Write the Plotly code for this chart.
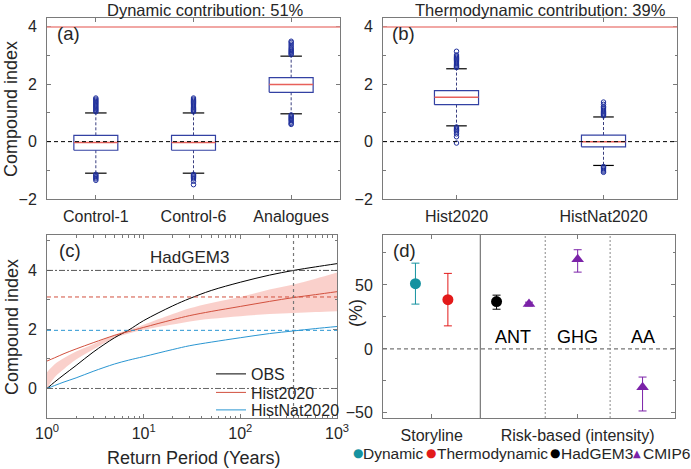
import plotly.graph_objects as go

# ---------------- DATA ----------------
# (a) storyline box plots (Compound index)
a_cats = ["Control-1", "Control-6", "Analogues"]
a_q1 = [-0.30, -0.30, 1.72]
a_med = [-0.03, -0.03, 1.99]
a_q3 = [0.22, 0.22, 2.23]
a_wlo = [-1.10, -1.10, 0.97]
a_whi = [1.00, 1.00, 2.98]
a_out = [
    [1.04, 1.08, 1.12, 1.16, 1.20, 1.24, 1.28, 1.32, 1.36, 1.40, 1.44, 1.48, 1.52,
     -1.14, -1.18, -1.22, -1.26, -1.30, -1.35],
    [1.04, 1.08, 1.12, 1.16, 1.20, 1.24, 1.28, 1.32, 1.36, 1.40, 1.44, 1.48, 1.52,
     -1.14, -1.18, -1.22, -1.26, -1.30, -1.38, -1.50],
    [3.03, 3.07, 3.11, 3.15, 3.19, 3.23, 3.28, 3.34, 3.40, 3.46, 3.50,
     0.93, 0.89, 0.85, 0.81, 0.77, 0.73, 0.68, 0.63, 0.60],
]

# (b) thermodynamic box plots
b_cats = ["Hist2020", "HistNat2020"]
b_q1 = [1.29, -0.18]
b_med = [1.55, 0.00]
b_q3 = [1.78, 0.23]
b_wlo = [0.55, -0.83]
b_whi = [2.54, 0.86]
b_out = [
    [2.58, 2.62, 2.66, 2.70, 2.74, 2.78, 2.82, 2.86, 2.90, 2.94, 2.98, 3.02, 3.15,
     0.51, 0.47, 0.43, 0.39, 0.34, 0.27, 0.17, -0.05],
    [0.90, 0.94, 0.98, 1.02, 1.06, 1.10, 1.14, 1.18, 1.22, 1.30, 1.38,
     -0.87, -0.91, -0.95, -0.99, -1.03, -1.07],
]

# (c) return-level curves, HadGEM3
rp = [1, 1.2, 1.5, 2, 3, 5, 7, 10, 20, 30, 50, 100, 200, 355, 600, 1000]
obs = [0.00, 0.22, 0.47, 0.78, 1.23, 1.72, 1.98, 2.30, 2.80, 3.05, 3.32, 3.60, 3.84, 4.00, 4.12, 4.23]
hist = [0.93, 1.04, 1.18, 1.34, 1.55, 1.80, 1.93, 2.07, 2.33, 2.47, 2.61, 2.78, 2.95, 3.08, 3.18, 3.28]
histnat = [0.00, 0.10, 0.22, 0.36, 0.58, 0.83, 0.96, 1.08, 1.32, 1.45, 1.57, 1.72, 1.86, 1.95, 2.03, 2.10]
hist_lo = [0.00, 0.38, 0.66, 0.98, 1.32, 1.71, 1.86, 1.99, 2.17, 2.27, 2.36, 2.45, 2.52, 2.56, 2.59, 2.62]
hist_hi = [0.55, 0.82, 1.03, 1.25, 1.50, 1.83, 1.98, 2.16, 2.52, 2.72, 2.90, 3.10, 3.35, 3.52, 3.72, 3.93]
obs_level = 4.0
hist_level = 3.10
nat_level = 1.97
event_rp = 355

# (d) contributions (%)
sl_names = ["Dynamic", "Thermodynamic"]
sl_val = [51, 38.5]
sl_hi = [67, 59]
sl_lo = [35, 18]
had_val = [37]
had_hi = [42]
had_lo = [31]
cmip_forc = ["ANT", "GHG", "AA"]
cmip_val = [35, 70, -30]
cmip_hi = [36.5, 77.5, -22]
cmip_lo = [33.5, 60, -48.5]
d_groups = ["Storyline", "Risk-based (intensity)"]
leg_names = ["Dynamic", "Thermodynamic", "HadGEM3", "CMIP6"]

# ---------------- STYLE / LAYOUT ----------------
W, H = 691, 469
FONT = "Liberation Sans, Arial, sans-serif"
FRAME = "#7a7a7a"
TXT = "#262626"
BOXC = "#3341a3"
MEDC = "#e8605a"
OUTC = "#1f2f9c"
TEAL = "#1592a0"
RED = "#e31a1a"
PURP = "#7b22a8"
HRED = "#d2503e"
NBLUE = "#2a96d2"

sl_x = [0.5, 1.0]
had_x = [1.75]
cmip_x = [2.25, 3.0, 4.0]
grp_x = [0.75, 3.0]
sep_x = [1.5, 2.5, 3.5]


def px(x):
    return x / W


def py(y):
    return 1 - y / H


fig = go.Figure()


def add_boxes(cats, q1, med, q3, wlo, whi, outs, xa, ya, hw, cw):
    for i in range(len(cats)):
        p = i + 1
        common = dict(xaxis=xa, yaxis=ya, showlegend=False, hoverinfo="skip")
        fig.add_trace(go.Scatter(x=[p, p, None, p, p], y=[q3[i], whi[i], None, q1[i], wlo[i]],
                                 mode="lines", line=dict(color="#3a3f80", width=1, dash="3px,2px"), **common))
        fig.add_trace(go.Scatter(x=[p - cw, p + cw, None, p - cw, p + cw],
                                 y=[whi[i], whi[i], None, wlo[i], wlo[i]],
                                 mode="lines", line=dict(color="black", width=1.2), **common))
        fig.add_trace(go.Scatter(x=[p - hw, p + hw, p + hw, p - hw, p - hw],
                                 y=[q1[i], q1[i], q3[i], q3[i], q1[i]],
                                 mode="lines", line=dict(color=BOXC, width=1.2), **common))
        fig.add_trace(go.Scatter(x=[p - hw, p + hw], y=[med[i], med[i]],
                                 mode="lines", line=dict(color=MEDC, width=1.5), **common))
        fig.add_trace(go.Scatter(x=[p] * len(outs[i]), y=outs[i], mode="markers",
                                 marker=dict(symbol="circle-open", size=4.5, color=OUTC,
                                             line=dict(width=1, color=OUTC)), **common))


add_boxes(a_cats, a_q1, a_med, a_q3, a_wlo, a_whi, a_out, "x", "y", 0.225, 0.11)
add_boxes(b_cats, b_q1, b_med, b_q3, b_wlo, b_whi, b_out, "x2", "y2", 0.15, 0.07)

# (c)
fig.add_trace(go.Scatter(x=rp, y=hist_lo, mode="lines", line=dict(width=0, shape="spline"),
                         xaxis="x3", yaxis="y3", showlegend=False, hoverinfo="skip"))
fig.add_trace(go.Scatter(x=rp, y=hist_hi, mode="lines", line=dict(width=0, shape="spline"),
                         fill="tonexty", fillcolor="rgba(246,170,160,0.55)",
                         xaxis="x3", yaxis="y3", showlegend=False, hoverinfo="skip"))
fig.add_trace(go.Scatter(x=rp, y=obs, mode="lines", name="OBS", legend="legend",
                         line=dict(color="black", width=1, shape="spline"), xaxis="x3", yaxis="y3"))
fig.add_trace(go.Scatter(x=rp, y=hist, mode="lines", name="Hist2020", legend="legend2",
                         line=dict(color=HRED, width=1, shape="spline"), xaxis="x3", yaxis="y3"))
fig.add_trace(go.Scatter(x=rp, y=histnat, mode="lines", name="HistNat2020", legend="legend3",
                         line=dict(color=NBLUE, width=1, shape="spline"), xaxis="x3", yaxis="y3"))

# (d)
for i, nm in enumerate(sl_names):
    col = [TEAL, RED][i]
    fig.add_trace(go.Scatter(x=[sl_x[i]], y=[sl_val[i]], mode="markers", showlegend=False,
                             marker=dict(symbol="circle", size=11, color=col),
                             error_y=dict(type="data", symmetric=False, array=[sl_hi[i] - sl_val[i]],
                                          arrayminus=[sl_val[i] - sl_lo[i]], width=4, thickness=1, color=col),
                             xaxis="x4", yaxis="y4"))
fig.add_trace(go.Scatter(x=had_x, y=had_val, mode="markers", showlegend=False,
                         marker=dict(symbol="circle", size=11, color="black"),
                         error_y=dict(type="data", symmetric=False,
                                      array=[h - v for h, v in zip(had_hi, had_val)],
                                      arrayminus=[v - l for v, l in zip(had_val, had_lo)],
                                      width=4, thickness=1, color="black"),
                         xaxis="x4", yaxis="y4"))
fig.add_trace(go.Scatter(x=cmip_x, y=cmip_val, mode="markers", showlegend=False,
                         marker=dict(symbol="triangle-up", size=11, color=PURP),
                         error_y=dict(type="data", symmetric=False,
                                      array=[h - v for h, v in zip(cmip_hi, cmip_val)],
                                      arrayminus=[v - l for v, l in zip(cmip_val, cmip_lo)],
                                      width=4, thickness=1, color=PURP),
                         xaxis="x4", yaxis="y4"))


# ---------------- axes ----------------
def axis(domain, rng, anchor, **kw):
    d = dict(domain=domain, range=rng, anchor=anchor, showline=True, mirror="ticks",
             linecolor=FRAME, linewidth=1, ticks="inside", ticklen=4, tickcolor=FRAME,
             showgrid=False, zeroline=False, automargin=False,
             tickfont=dict(size=16, color=TXT, family=FONT))
    d.update(kw)
    return d


top_dom = [py(199), py(18)]
bot_dom = [py(418), py(235)]
ax_a = [px(47), px(340)]
ax_b = [px(383), px(677)]
ax_c = [px(47), px(337)]
ax_d = [px(383), px(675)]

minor1 = dict(ticks="inside", ticklen=2.5, dtick=1, tickcolor=FRAME)


def legend_at(ytop):
    return dict(x=px(211), y=py(ytop), xanchor="left", yanchor="top", bgcolor="rgba(0,0,0,0)",
                font=dict(size=16, color=TXT, family=FONT), itemwidth=30, borderwidth=0)


fig.update_layout(
    xaxis=axis(ax_a, [0.5, 3.5], "y", tickvals=[1, 2, 3], ticktext=a_cats, ticklabelstandoff=3),
    yaxis=axis(top_dom, [-2, 4.31], "x", tickvals=[-2, 0, 2, 4], minor=minor1, ticklabelstandoff=6),
    xaxis2=axis(ax_b, [0.5, 2.5], "y2", tickvals=[1, 2], ticktext=b_cats, ticklabelstandoff=3),
    yaxis2=axis(top_dom, [-2, 4.31], "x2", tickvals=[-2, 0, 2, 4], minor=minor1, ticklabelstandoff=6),
    xaxis3=axis(ax_c, [0, 3], "y3", type="log", tickvals=[1, 10, 100, 1000],
                ticktext=["10<sup>0</sup>", "10<sup>1</sup>", "10<sup>2</sup>", "10<sup>3</sup>"],
                minor=dict(ticks="inside", ticklen=2.5, dtick="D1", tickcolor=FRAME), ticklabelstandoff=1),
    yaxis3=axis(bot_dom, [-1, 5.2], "x3", tickvals=[0, 2, 4], minor=minor1, ticklabelstandoff=6),
    xaxis4=axis(ax_d, [0, 4.5], "y4", tickvals=grp_x, ticktext=d_groups, ticklabelstandoff=3),
    yaxis4=axis(bot_dom, [-54, 89], "x4", tickvals=[-50, 0, 50],
                minor=dict(ticks="inside", ticklen=2.5, dtick=25, tickcolor=FRAME), ticklabelstandoff=6),
    width=W, height=H, margin=dict(l=0, r=0, t=0, b=0, autoexpand=False),
    paper_bgcolor="white", plot_bgcolor="white",
    font=dict(family=FONT, size=16, color=TXT),
    showlegend=True,
    legend=legend_at(357),
    legend2=legend_at(375.5),
    legend3=legend_at(393),
)

# ---------------- shapes ----------------
shapes = []
for xr, yr in [("x", "y"), ("x2", "y2")]:
    shapes.append(dict(type="line", xref=f"{xr} domain", yref=yr, x0=0, x1=1, y0=4, y1=4,
                       line=dict(color="#ec8a86", width=1.5)))
    shapes.append(dict(type="line", xref=f"{xr} domain", yref=yr, x0=0, x1=1, y0=0, y1=0,
                       line=dict(color="black", width=1, dash="4px,3px")))
shapes += [
    dict(type="line", xref="x3 domain", yref="y3", x0=0, x1=1, y0=obs_level, y1=obs_level,
         line=dict(color="#555", width=1, dash="6px,2px,2px,2px")),
    dict(type="line", xref="x3 domain", yref="y3", x0=0, x1=1, y0=hist_level, y1=hist_level,
         line=dict(color=HRED, width=1, dash="4px,3px")),
    dict(type="line", xref="x3 domain", yref="y3", x0=0, x1=1, y0=nat_level, y1=nat_level,
         line=dict(color=NBLUE, width=1, dash="4px,3px")),
    dict(type="line", xref="x3 domain", yref="y3", x0=0, x1=1, y0=0, y1=0,
         line=dict(color="#666", width=1, dash="6px,2px,2px,2px")),
    dict(type="line", xref="x3", yref="y3 domain", x0=event_rp, x1=event_rp, y0=0, y1=1,
         line=dict(color="#777", width=1.2, dash="3px,3px")),
    dict(type="line", xref="x4 domain", yref="y4", x0=0, x1=1, y0=0, y1=0,
         line=dict(color="#777", width=1.2, dash="4px,3px")),
    dict(type="line", xref="x4", yref="y4 domain", x0=sep_x[0], x1=sep_x[0], y0=0, y1=1,
         line=dict(color="#777", width=1.2)),
    dict(type="line", xref="x4", yref="y4 domain", x0=sep_x[1], x1=sep_x[1], y0=0, y1=1,
         line=dict(color="#888", width=1, dash="2px,2px")),
    dict(type="line", xref="x4", yref="y4 domain", x0=sep_x[2], x1=sep_x[2], y0=0, y1=1,
         line=dict(color="#888", width=1, dash="2px,2px")),
]
fig.update_layout(shapes=shapes)

# ---------------- annotations ----------------
ann = []


def text(x, y, s, size=16, **kw):
    d = dict(xref="paper", yref="paper", x=px(x), y=py(y), text=s, showarrow=False,
             font=dict(size=size, color=TXT, family=FONT), xanchor="center", yanchor="middle")
    d.update(kw)
    ann.append(d)


text(205, 10, "Dynamic contribution: 51%", 16.5)
text(540, 10, "Thermodynamic contribution: 39%", 16.5)
text(55, 33, "(a)", 18.5, xanchor="left")
text(390, 33, "(b)", 18.5, xanchor="left")
text(57, 250, "(c)", 18.5, xanchor="left")
text(391, 250, "(d)", 18.5, xanchor="left")
text(189, 257, "HadGEM3", 17)
text(11, 109, "Compound index", 18, textangle=-90)
text(12, 327, "Compound index", 18, textangle=-90)
text(193, 458, "Return Period (Years)", 18)
text(356, 313, "(%)", 18, textangle=-90)
for i, f in enumerate(cmip_forc):
    ann.append(dict(xref="x4", yref="y4", x=cmip_x[i] if i else sep_x[0] + 0.5, y=9, text=f,
                    showarrow=False, font=dict(size=18, color="black", family=FONT)))

# bottom legend: key glyph + label for each series
leg_cols = [TEAL, RED, "black", PURP]
leg_glyph = ["●", "●", "●", "▲"]
leg_gx = [357.5, 431, 554.5, 636.5]
leg_tx = [362, 436, 559.5, 641.5]
for g, c, gx, tx, nm in zip(leg_glyph, leg_cols, leg_gx, leg_tx, leg_names):
    ann.append(dict(xref="paper", yref="paper", x=px(gx), y=py(453), text=g, showarrow=False,
                    xanchor="center", yanchor="middle", borderpad=0,
                    font=dict(size=12 if g == "●" else 10, color=c, family="DejaVu Sans")))
    text(tx, 453, nm, 15.5, xanchor="left", borderpad=0)
fig.update_layout(annotations=ann)

fig.write_html("out.html", config={"displayModeBar": False},
               post_script="document.body.style.margin='0';")
